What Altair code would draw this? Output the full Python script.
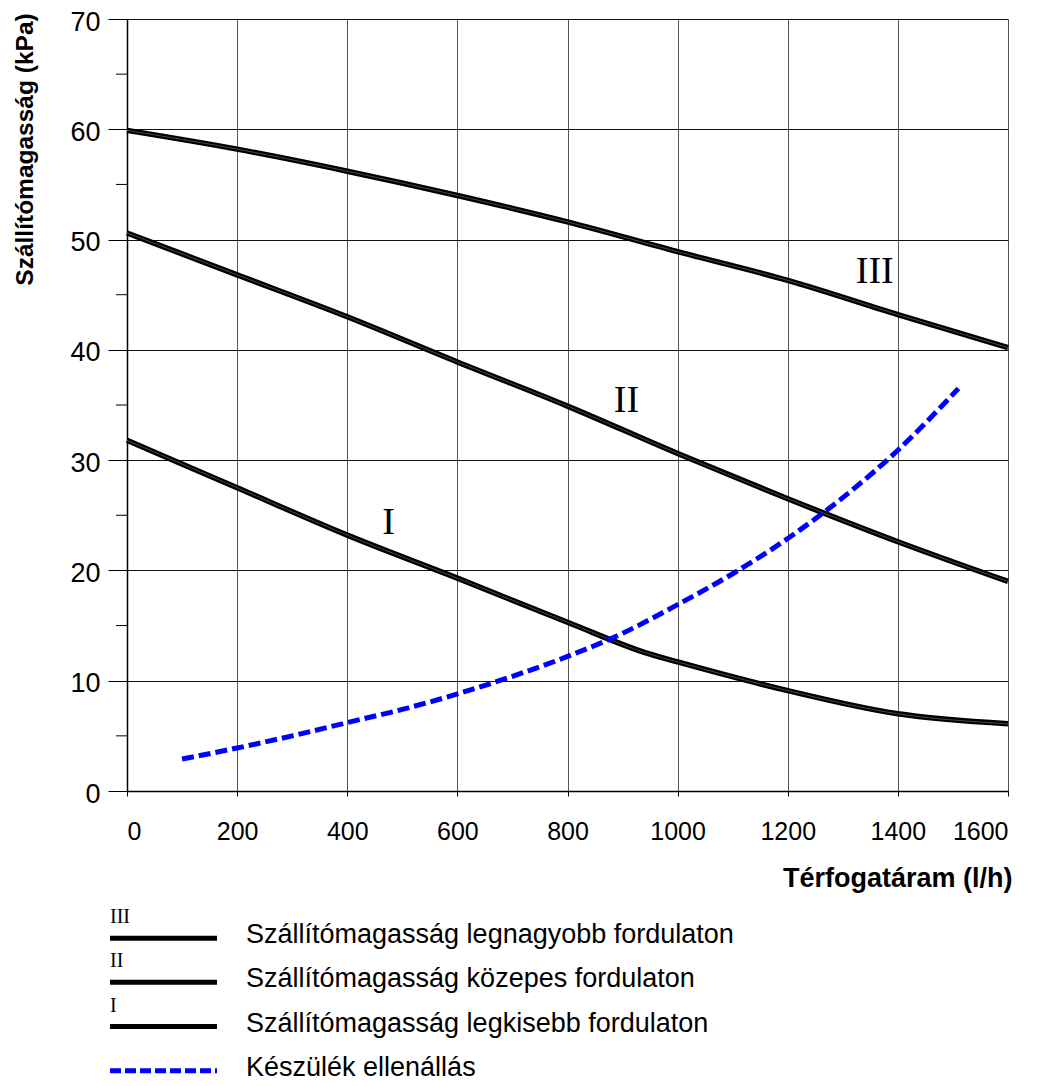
import altair as alt
import pandas as pd

# ---- data ----
flow = [0, 200, 400, 600, 800, 1000, 1200, 1400, 1600]
head_III = [59.9, 58.2, 56.2, 54.0, 51.6, 48.9, 46.3, 43.2, 40.2]
head_II = [50.6, 46.8, 43.0, 38.9, 34.9, 30.6, 26.5, 22.6, 19.0]
flow_I = [0, 200, 400, 600, 800, 950, 1000, 1200, 1400, 1600]
head_I = [31.8, 27.5, 23.2, 19.3, 15.3, 12.4, 11.7, 9.1, 7.0, 6.1]
flow_R = [100, 200, 300, 400, 500, 600, 700, 800, 900, 1000, 1100, 1200, 1300, 1400, 1510]
resist = [2.9, 3.9, 5.0, 6.2, 7.4, 8.8, 10.4, 12.2, 14.3, 16.9, 19.7, 22.9, 26.6, 30.9, 36.5]

x_ticks = [0, 200, 400, 600, 800, 1000, 1200, 1400, 1600]
y_ticks = [0, 10, 20, 30, 40, 50, 60, 70]
y_minor = [5, 15, 25, 35, 45, 55, 65]

numerals = ["I", "II", "III"]
numeral_x = [475, 907, 1358]
numeral_y = [24.3, 35.4, 47.1]

leg_rows = [0, 1, 2, 3]
leg_numerals = ["III", "II", "I", ""]
leg_labels = [
    "Szállítómagasság legnagyobb fordulaton",
    "Szállítómagasság közepes fordulaton",
    "Szállítómagasság legkisebb fordulaton",
    "Készülék ellenállás",
]

SANS = "Liberation Sans, Arial, sans-serif"
SERIF = "Liberation Serif, Times New Roman, serif"

curves = pd.concat([
    pd.DataFrame({"q": flow, "h": head_III, "s": "III"}),
    pd.DataFrame({"q": flow, "h": head_II, "s": "II"}),
    pd.DataFrame({"q": flow_I, "h": head_I, "s": "I"}),
])
res_df = pd.DataFrame({"q": flow_R, "h": resist})
num_df = pd.DataFrame({"t": numerals, "q": numeral_x, "h": numeral_y})
minor_df = pd.DataFrame({"v": y_minor})

xs = alt.Scale(domain=[0, 1600], nice=False, zero=True)
ys = alt.Scale(domain=[0, 70], nice=False, zero=True)

x_axis = alt.Axis(
    values=x_ticks, format="d", title="Térfogatáram (l/h)", grid=True,
    gridColor="#555", gridWidth=1, domainColor="black", domainWidth=1.5,
    tickColor="black", tickSize=5, labelFont=SANS, labelFontSize=25,
    labelColor="black", labelPadding=23, titleFont=SANS, titleFontWeight="bold",
    titleFontSize=27, titleColor="black", titleX=885, titleY=87,
    titleAlign="right", titleBaseline="middle", titleAnchor="end",
)
y_axis = alt.Axis(
    values=y_ticks, format="d", title="Szállítómagasság (kPa)", grid=True,
    gridColor="#111", gridWidth=1, domainColor="black", domainWidth=1.5,
    tickColor="black", tickSize=19, labelFont=SANS, labelFontSize=27,
    labelColor="black", labelPadding=8, labelOffset=3, titleFont=SANS,
    titleFontWeight="bold", titleFontSize=24.5, titleColor="black",
    titleAngle=270, titleX=-102, titleY=130, titleAlign="center",
    titleBaseline="middle",
)

lines = alt.Chart(curves).mark_line(
    color="black", strokeWidth=5.5, interpolate="monotone"
).encode(
    x=alt.X("q:Q", scale=xs, axis=x_axis),
    y=alt.Y("h:Q", scale=ys, axis=y_axis),
    detail="s:N",
)
inner = alt.Chart(curves).mark_line(
    color="#777", strokeWidth=0.6, interpolate="monotone"
).encode(
    x=alt.X("q:Q", scale=xs), y=alt.Y("h:Q", scale=ys), detail="s:N"
)
res_line = alt.Chart(res_df).mark_line(
    color="#0000ff", strokeWidth=5, strokeDash=[12, 5], interpolate="monotone"
).encode(x=alt.X("q:Q", scale=xs), y=alt.Y("h:Q", scale=ys))

minor = alt.Chart(minor_df).mark_rule(color="black", strokeWidth=1).encode(
    y=alt.Y("v:Q", scale=ys), x=alt.value(-11), x2=alt.value(0)
)
labels = alt.Chart(num_df).mark_text(
    font=SERIF, fontSize=38, color="black", align="center", baseline="middle"
).encode(x=alt.X("q:Q", scale=xs), y=alt.Y("h:Q", scale=ys), text="t:N")

main = alt.layer(minor, lines, inner, res_line, labels).properties(width=881, height=772)

leg_df = pd.DataFrame({"row": leg_rows, "num": leg_numerals, "label": leg_labels,
                       "kind": ["pump", "pump", "pump", "res"]})
ly = alt.Scale(domain=[-0.75, 3.3], reverse=True)
leg_base = alt.Chart(leg_df)
leg_black = leg_base.transform_filter(alt.datum.kind == "pump").mark_rule(
    color="black", strokeWidth=5
).encode(y=alt.Y("row:Q", scale=ly, axis=None), x=alt.value(-17), x2=alt.value(90))
leg_blue = leg_base.transform_filter(alt.datum.kind == "res").mark_rule(
    color="#0000ff", strokeWidth=5, strokeDash=[11, 4]
).encode(y=alt.Y("row:Q", scale=ly, axis=None), x=alt.value(-17), x2=alt.value(90))
leg_num = leg_base.mark_text(
    font=SERIF, fontSize=20, color="black", align="left", baseline="middle", dy=-21
).encode(y=alt.Y("row:Q", scale=ly, axis=None), x=alt.value(-17), text="num:N")
leg_text = leg_base.mark_text(
    font=SANS, fontSize=27, color="black", align="left", baseline="middle", dy=-3
).encode(y=alt.Y("row:Q", scale=ly, axis=None), x=alt.value(119), text="label:N")

legend = alt.layer(leg_black, leg_blue, leg_num, leg_text).properties(width=881, height=179)

chart = alt.vconcat(main, legend, spacing=14).configure_view(
    stroke=None
).properties(
    padding={"left": 4, "top": 0, "right": 5, "bottom": 0},
    background="white",
)

chart.save("out.html", embed_options={"renderer": "svg", "actions": False})
